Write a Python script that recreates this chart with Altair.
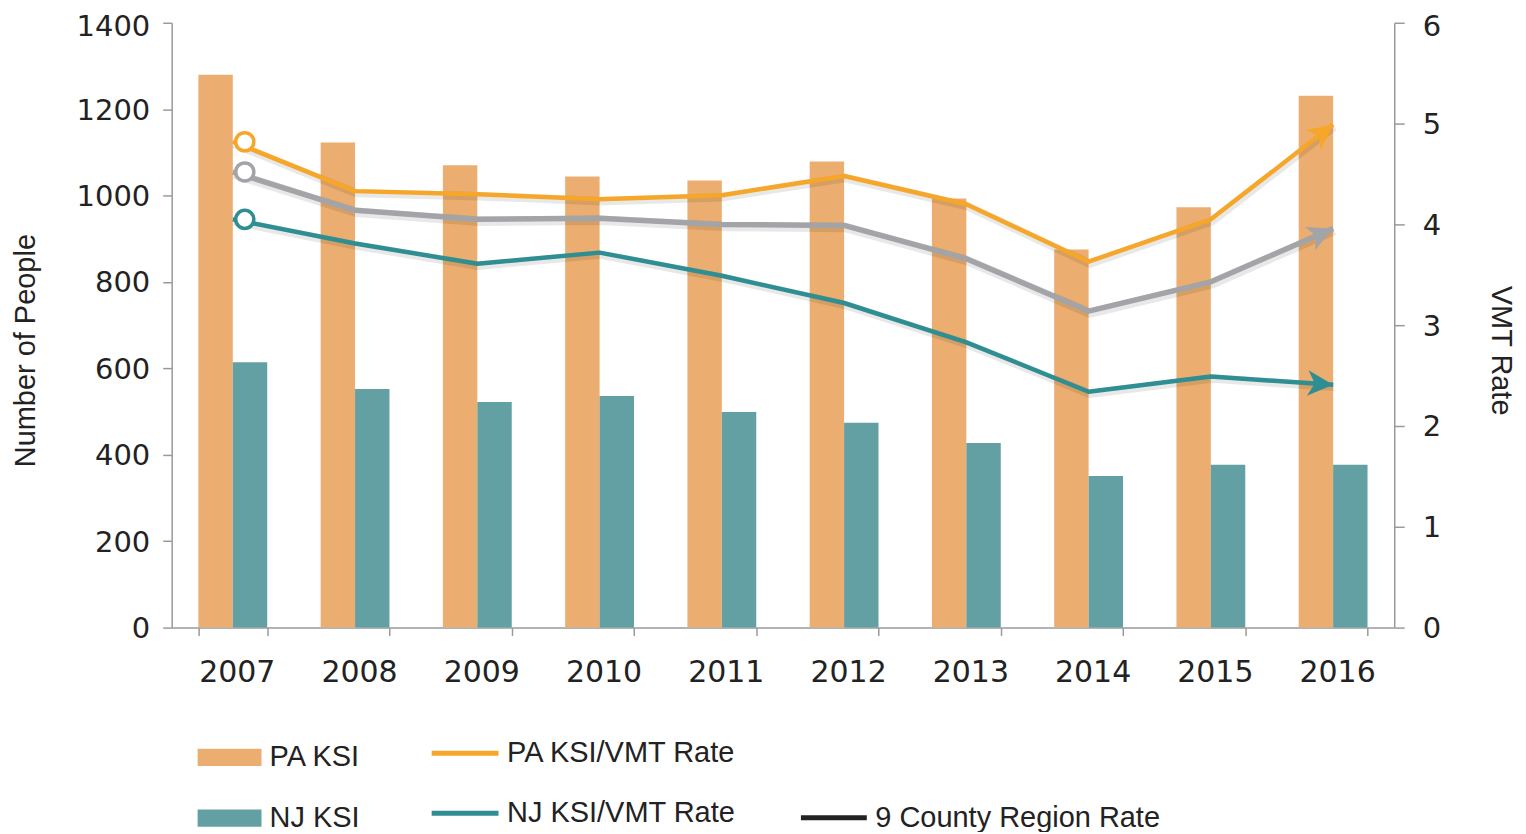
import math
import altair as alt
import pandas as pd

# ---------------- data ----------------
years = ["2007", "2008", "2009", "2010", "2011", "2012", "2013", "2014", "2015", "2016"]
pa_ksi = [1280, 1123, 1070, 1044, 1035, 1079, 993, 875, 973, 1231]
nj_ksi = [614, 552, 522, 536, 499, 474, 427, 351, 377, 377]
pa_rate = [4.82, 4.33, 4.30, 4.25, 4.29, 4.48, 4.20, 3.63, 4.05, 4.99]
region_rate = [4.52, 4.14, 4.05, 4.06, 4.00, 3.99, 3.66, 3.14, 3.43, 3.96]
nj_rate = [4.05, 3.81, 3.61, 3.72, 3.49, 3.22, 2.83, 2.34, 2.49, 2.41]

bar_names = ["PA KSI", "NJ KSI"]
bar_colors = ["#EBAE70", "#62A0A3"]
rate_names = ["PA KSI/VMT Rate", "9 County Region Rate", "NJ KSI/VMT Rate"]
rate_lists = [pa_rate, region_rate, nj_rate]
rate_colors = ["#F6A72A", "#A3A4A7", "#2E8E92"]
rate_widths = [4.5, 5.5, 4.5]
region_legend_color = "#222222"

# ---------------- layout constants ----------------
PLOT_W, PLOT_H = 1225, 606
RATE_MAX = 6
STEP = PLOT_W / len(years)
ARROW = "M0,0L-1,-0.5L-0.72,0L-1,0.5Z"
TXT = "#222222"
AXC = "#9a9a9a"

bars_df = pd.DataFrame({
    "year": years * 2,
    "series": [bar_names[0]] * len(years) + [bar_names[1]] * len(years),
    "value": pa_ksi + nj_ksi,
})
rows = []
for name, vals in zip(rate_names, rate_lists):
    for y, v in zip(years, vals):
        rows.append({"year": y, "series": name, "rate": v})
rates_df = pd.DataFrame(rows)

x_enc = alt.X(
    "year:N", title=None,
    scale=alt.Scale(paddingInner=0.437, paddingOuter=0.2185),
    axis=alt.Axis(tickBand="extent", tickSize=8, labelPadding=22, labelAngle=0, labelOffset=4,
                  labelFontSize=30, domainWidth=1.5, tickWidth=1.5),
)
y_rate = alt.Y(
    "rate:Q",
    scale=alt.Scale(domain=[0, RATE_MAX]),
    axis=alt.Axis(orient="right", values=list(range(0, RATE_MAX + 1)), title="VMT Rate",
                  tickSize=10, labelPadding=18, labelFontSize=29,
                  labelOffset={"condition": {"test": f"datum.value >= {RATE_MAX}", "value": 4}, "value": 1},
                  titleAngle=90, titleX=106, titleY=328,
                  titleAlign="center", titleBaseline="middle", domainWidth=1.5, tickWidth=1.5),
)

bars = alt.Chart(bars_df).mark_bar().encode(
    x=x_enc,
    xOffset=alt.XOffset("series:N", scale=alt.Scale(domain=bar_names, paddingInner=0, paddingOuter=0)),
    y=alt.Y("value:Q", scale=alt.Scale(domain=[0, 1400]),
            axis=alt.Axis(values=list(range(0, 1401, 200)), format="d", title="Number of People",
                          tickSize=9, labelPadding=13, labelFontSize=29,
                          labelOffset={"condition": {"test": "datum.value >= 1400", "value": 4}, "value": 1},
                          titleAngle=270, titleX=-146, titleY=328,
                          titleAlign="center", titleBaseline="middle", domainWidth=1.5, tickWidth=1.5)),
    fill=alt.Fill("series:N", scale=alt.Scale(domain=bar_names, range=bar_colors),
                  legend=alt.Legend(title=None, orient="none", legendX=26, legendY=704,
                                    direction="vertical", symbolType="M-1,-0.27H1V0.27H-1Z",
                                    symbolSize=4096, symbolStrokeWidth=0, symbolOpacity=1,
                                    labelOffset=8, rowPadding=14, labelLimit=0)),
)

layers = []
# soft shadows
for name, col, w in zip(rate_names, rate_colors, rate_widths):
    layers.append(
        alt.Chart(rates_df).transform_filter(alt.datum.series == name)
        .mark_line(stroke="#000000", strokeOpacity=0.09, strokeWidth=w + 4, xOffset=1, yOffset=2,
                   strokeJoin="round")
        .encode(x=x_enc, y=y_rate)
    )
# PA / NJ lines with stroke legend
pn = [rate_names[0], rate_names[2]]
layers.append(
    alt.Chart(rates_df).transform_filter(alt.FieldOneOfPredicate(field="series", oneOf=pn))
    .mark_line(strokeWidth=4.5, strokeJoin="round")
    .encode(
        x=x_enc, y=y_rate,
        stroke=alt.Stroke("series:N", scale=alt.Scale(domain=pn, range=[rate_colors[0], rate_colors[2]]),
                          legend=alt.Legend(title=None, orient="none", legendX=258, legendY=696,
                                            direction="vertical", symbolType="stroke", symbolSize=4489,
                                            symbolStrokeWidth=5, labelOffset=6, rowPadding=9,
                                            labelLimit=0)),
    )
)
# region line (visible, constant colour)
layers.append(
    alt.Chart(rates_df).transform_filter(alt.datum.series == rate_names[1])
    .mark_line(stroke=rate_colors[1], strokeWidth=5.5, strokeJoin="round")
    .encode(x=x_enc, y=y_rate)
)
# region legend carrier (zero-width line, legend drawn dark as in the reference)
layers.append(
    alt.Chart(rates_df).transform_filter(alt.datum.series == rate_names[1])
    .mark_line(strokeWidth=0)
    .encode(
        x=x_enc, y=y_rate,
        color=alt.Color("series:N", scale=alt.Scale(domain=[rate_names[1]], range=[region_legend_color]),
                        legend=alt.Legend(title=None, orient="none", legendX=628, legendY=761,
                                          symbolType="stroke", symbolSize=4356, symbolStrokeWidth=5,
                                          symbolOpacity=1, labelOffset=6, labelLimit=0)),
    )
)
# start circles and end arrows
for name, vals, col in zip(rate_names, rate_lists, rate_colors):
    rise = (vals[-1] - vals[-2]) / RATE_MAX * PLOT_H
    theta = math.degrees(math.atan2(rise, STEP))
    ang = (360 - theta) % 360
    layers.append(
        alt.Chart(rates_df).transform_filter((alt.datum.series == name) & (alt.datum.year == years[-1]))
        .mark_point(shape=ARROW, filled=True, fill=col, size=2600, angle=ang, opacity=1, strokeWidth=0)
        .encode(x=x_enc, y=y_rate)
    )
    layers.append(
        alt.Chart(rates_df).transform_filter((alt.datum.series == name) & (alt.datum.year == years[0]))
        .mark_point(shape="circle", filled=True, fill="white", stroke=col, strokeWidth=3.5,
                    size=330, xOffset=12, opacity=1)
        .encode(x=x_enc, y=y_rate)
    )

rate_layer = alt.layer(*layers)

chart = (
    alt.layer(bars, rate_layer)
    .resolve_scale(y="independent")
    .properties(width=PLOT_W, height=PLOT_H, autosize=alt.AutoSizeParams(type="none"),
                padding={"left": 164, "top": 14, "right": 124, "bottom": 204}, background="white")
    .configure_view(stroke=None)
    .configure_axis(labelFont="DejaVu Sans", labelColor=TXT,
                    titleFont="Liberation Sans", titleFontSize=29, titleFontWeight="normal",
                    titleColor=TXT, domainColor=AXC, tickColor=AXC, grid=False)
    .configure_legend(labelFont="Liberation Sans", labelFontSize=29, labelColor=TXT, padding=0)
)

chart.save("out.html", embed_options={"renderer": "svg", "actions": False})
